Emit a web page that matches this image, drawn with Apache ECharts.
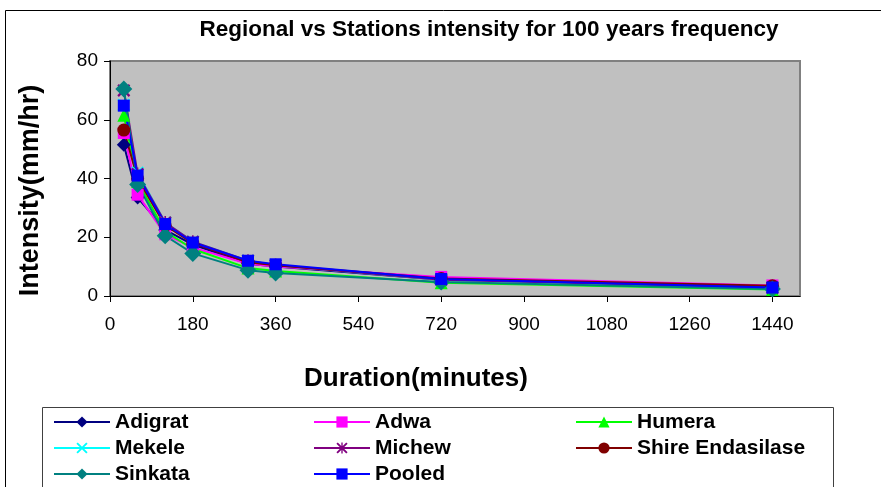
<!DOCTYPE html>
<html>
<head>
<meta charset="utf-8">
<script src="https://cdn.jsdelivr.net/npm/echarts@6/dist/echarts.min.js"></script>
<style>
  html, body { margin: 0; padding: 0; background: #fff; }
  #chart { width: 881px; height: 487px; }
</style>
</head>
<body>
<div id="chart"></div>
<script>
// Storm durations (minutes) and 100-year intensities (mm/hr)
const durations = [30, 60, 120, 180, 300, 360, 720, 1440];
const xTicks = [0, 180, 360, 540, 720, 900, 1080, 1260, 1440];

const adigrat = [51.5, 33.5, 22.5, 17.5, 11.0, 10.0, 5.5, 3.2];
const adwa    = [55.5, 34.5, 21.0, 16.5, 11.0, 10.0, 6.5, 3.6];
const humera  = [61.5, 39.0, 22.0, 16.0, 9.5, 8.5, 4.5, 2.2];
const mekele  = [65.0, 42.0, 25.0, 18.5, 12.0, 10.5, 5.5, 2.8];
const michew  = [70.0, 41.5, 25.0, 18.5, 12.0, 10.5, 5.5, 2.8];
const shire   = [56.5, 40.0, 24.0, 18.0, 11.5, 10.5, 6.0, 3.5];
const sinkata = [70.5, 38.0, 20.5, 14.5, 8.8, 7.8, 4.8, 2.4];
const pooled  = [64.8, 41.0, 24.5, 18.2, 12.0, 10.8, 5.8, 2.9];

const FONT = '"Liberation Sans", Arial, sans-serif';

const crossPath = 'path://M0,1.2L1.2,0L10,8.8L8.8,10Z M8.8,0L10,1.2L1.2,10L0,8.8Z';
const starPath = 'path://M0,1.2L1.2,0L10,8.8L8.8,10Z M8.8,0L10,1.2L1.2,10L0,8.8Z M4.4,0L5.6,0L5.6,10L4.4,10Z';

const seriesDefs = [
  { name: 'Adigrat', values: adigrat, color: '#000080', symbol: 'diamond', size: 14 },
  { name: 'Adwa', values: adwa, color: '#FF00FF', symbol: 'rect', size: 12 },
  { name: 'Humera', values: humera, color: '#00FF00', symbol: 'triangle', size: 13 },
  { name: 'Mekele', values: mekele, color: '#00FFFF', symbol: crossPath, size: 13 },
  { name: 'Michew', values: michew, color: '#800080', symbol: starPath, size: 13 },
  { name: 'Shire Endasilase', values: shire, color: '#800000', symbol: 'circle', size: 13 },
  { name: 'Sinkata', values: sinkata, color: '#008080', symbol: 'diamond', size: 17 },
  { name: 'Pooled', values: pooled, color: '#0000FF', symbol: 'rect', size: 12 }
];

const series = seriesDefs.map(d => ({
  name: d.name,
  type: 'line',
  data: durations.map((x, i) => [x, d.values[i]]),
  symbol: d.symbol,
  symbolSize: d.size,
  showAllSymbol: true,
  lineStyle: { color: d.color, width: 2 },
  itemStyle: { color: d.color, borderWidth: 0 },
  emphasis: { disabled: true },
  animation: false
}));

function legendCol(names, left) {
  return {
    orient: 'vertical',
    left: left,
    top: 411,
    height: 120,
    padding: 0,
    data: names,
    itemWidth: 56,
    itemHeight: 14,
    itemGap: 4,
    textStyle: { fontFamily: FONT, fontSize: 21, fontWeight: 'bold', color: '#000', lineHeight: 22 },
    selectedMode: false
  };
}

const chart = echarts.init(document.getElementById('chart'), null, { renderer: 'canvas' });
chart.setOption({
  backgroundColor: '#fff',
  animation: false,
  graphic: [
    { type: 'rect', shape: { x: 5.5, y: 10.5, width: 900, height: 500 },
      style: { fill: 'none', stroke: '#000', lineWidth: 1 }, silent: true, z: -10 },
    { type: 'rect', shape: { x: 42.5, y: 407.5, width: 791, height: 100 },
      style: { fill: 'none', stroke: '#404040', lineWidth: 1 }, silent: true, z: -10 },
    { type: 'text', x: 489, y: 30,
      style: { text: 'Regional vs Stations intensity for 100 years frequency',
               fontFamily: FONT, fontSize: 22.5, fontWeight: 'bold', fill: '#000',
               align: 'center', verticalAlign: 'middle' }, silent: true }
  ],
  legend: [
    legendCol(['Adigrat', 'Mekele', 'Sinkata'], 53),
    legendCol(['Adwa', 'Michew', 'Pooled'], 313),
    legendCol(['Humera', 'Shire Endasilase'], 575)
  ],
  grid: {
    left: 110, top: 61, right: 81, bottom: 191,
    show: true, backgroundColor: '#C0C0C0', borderColor: '#808080', borderWidth: 2
  },
  xAxis: {
    type: 'value', min: 0, max: 1500, interval: 180,
    name: 'Duration(minutes)', nameLocation: 'middle', nameGap: 70,
    nameTextStyle: { fontFamily: FONT, fontSize: 26, fontWeight: 'bold', color: '#000',
                     padding: [0, 78, 0, 0] },
    axisLine: { show: true, onZero: false, lineStyle: { color: '#000', width: 1 } },
    axisTick: { show: true, length: 6, inside: false, customValues: xTicks, lineStyle: { color: '#000' } },
    axisLabel: { customValues: xTicks, margin: 19, fontFamily: FONT, fontSize: 19, color: '#000',
                 formatter: v => String(v) },
    splitLine: { show: false }
  },
  yAxis: {
    type: 'value', min: 0, max: 80, interval: 20,
    name: 'Intensity(mm/hr)', nameLocation: 'middle', nameGap: 66,
    nameTextStyle: { fontFamily: FONT, fontSize: 27, fontWeight: 'bold', color: '#000',
                     padding: [0, 24, 0, 0] },
    axisLine: { show: true, lineStyle: { color: '#000', width: 1 } },
    axisTick: { show: true, length: 6, inside: false, lineStyle: { color: '#000' } },
    axisLabel: { margin: 12, fontFamily: FONT, fontSize: 19, color: '#000' },
    splitLine: { show: false }
  },
  series: series
});
</script>
</body>
</html>
